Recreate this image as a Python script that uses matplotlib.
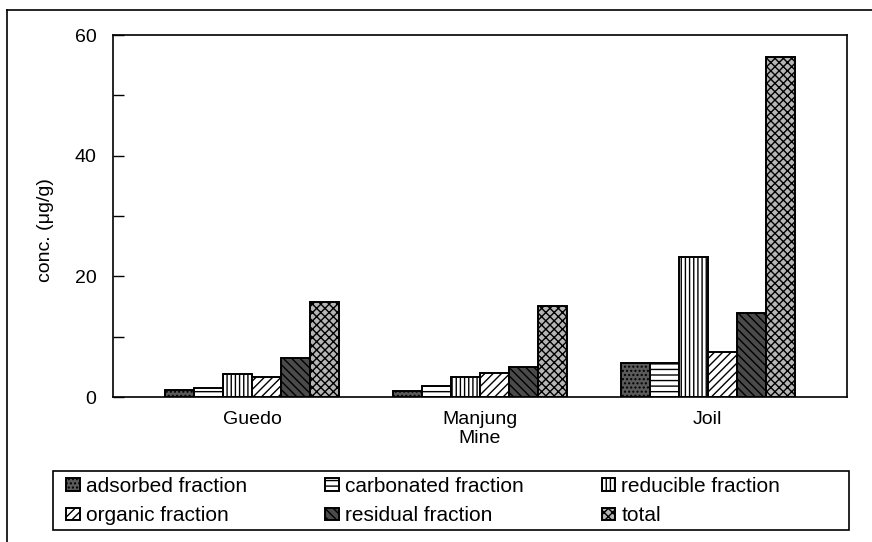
import numpy as np
import matplotlib
matplotlib.use("Agg")
import matplotlib.pyplot as plt
from matplotlib.lines import Line2D
from matplotlib.patches import Rectangle

plt.rcParams['font.family'] = ['Liberation Sans', 'DejaVu Sans']
plt.rcParams['hatch.linewidth'] = 1.0

# ---- data ----
sites = ["Guedo", "Manjung\nMine", "Joil"]
fractions = ["adsorbed fraction", "carbonated fraction", "reducible fraction",
             "organic fraction", "residual fraction", "total"]
adsorbed = [1.1, 1.0, 5.6]
carbonated = [1.5, 1.8, 5.6]
reducible = [3.8, 3.3, 23.2]
organic = [3.3, 4.0, 7.5]
residual = [6.4, 5.0, 14.0]
total = [15.8, 15.1, 56.3]

series = [adsorbed, carbonated, reducible, organic, residual, total]
hatches = ["....", "---", "||||", "////", "\\\\\\\\", "xxxx"]
faces = ["#5a5a5a", "white", "white", "white", "#4a4a4a", "#b5b5b5"]

fig = plt.figure(figsize=(8.72, 5.42), dpi=100)
ax = fig.add_axes([113 / 872, 1 - 397 / 542, (847 - 113) / 872, (397 - 35) / 542])

x = np.arange(len(sites))
width = 0.1275
bars = []
for i, (vals, h, fc) in enumerate(zip(series, hatches, faces)):
    b = ax.bar(x + (i - 2.5) * width, vals, width, color=fc, hatch=h,
               edgecolor="black", linewidth=1.4, label=fractions[i])
    bars.append(b)

ax.set_xlim(-0.611, 2.611)
ax.set_ylim(0, 60)
ax.set_yticks([0, 20, 40, 60])
ax.set_yticks([10, 30, 50], minor=True)
ax.tick_params(axis="y", which="both", direction="in", length=8, width=1,
               labelsize=14, pad=12)
ax.set_xticks(x)
ax.set_xticklabels(sites, fontsize=14, linespacing=1.15)
ax.tick_params(axis="x", length=0, pad=10)
ax.set_ylabel("conc. (μg/g)", fontsize=14)
ax.yaxis.set_label_coords(-0.08, 0.46)
for s in ax.spines.values():
    s.set_linewidth(1.2)

# legend filled row by row: matplotlib fills columns, so reorder
order = [0, 3, 1, 4, 2, 5]
leg = fig.legend([bars[k] for k in order], [fractions[k] for k in order],
                 loc="upper left", bbox_to_anchor=(66 / 872, 1 - 477 / 542),
                 ncol=3, fontsize=15, frameon=False,
                 borderaxespad=0, borderpad=0, handlelength=0.65, handleheight=0.55,
                 handletextpad=0.3, labelspacing=0.5, columnspacing=3.75)
fig.add_artist(Rectangle((53 / 872, 1 - 530 / 542), (849 - 53) / 872, 59 / 542,
                         transform=fig.transFigure, fill=False, edgecolor="black", lw=1.2))

# outer border of the figure
fig.add_artist(Line2D([7 / 872, 7 / 872], [0, 1 - 10 / 542], color="black", lw=1.2))
fig.add_artist(Line2D([7 / 872, 1], [1 - 10 / 542, 1 - 10 / 542], color="black", lw=1.2))

fig.savefig("out.png", dpi=100)
